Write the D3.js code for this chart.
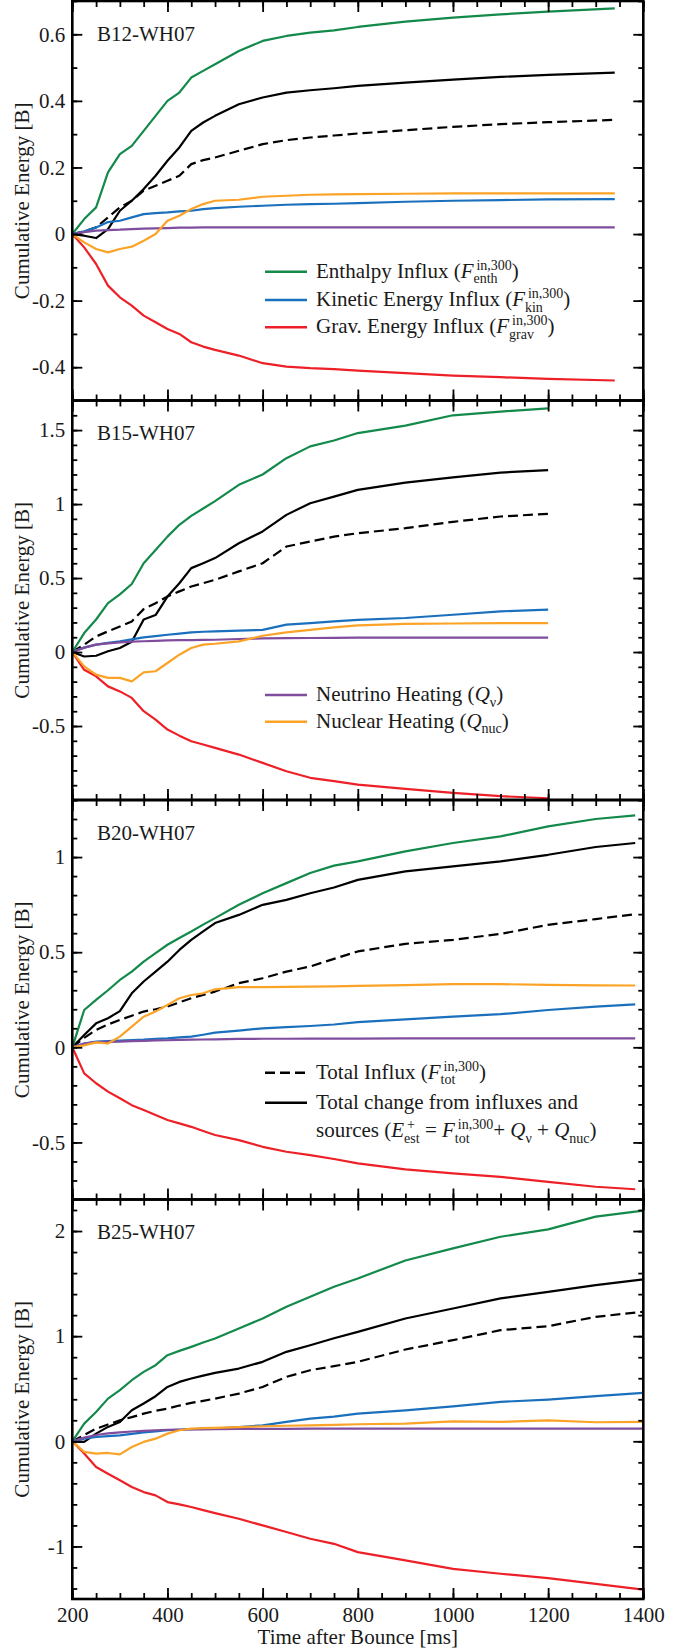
<!DOCTYPE html>
<html>
<head>
<meta charset="utf-8">
<script src="https://cdn.jsdelivr.net/npm/d3@7"></script>
<style>
body { margin: 0; background: #fff; }
text { font-family: "Liberation Serif", "Times New Roman", serif; fill: #1a1a1a; white-space: pre; }
</style>
</head>
<body>
<svg id="chart"></svg>
<script>
// Cumulative energy budget of four progenitor models

var panelNames = ["B12-WH07", "B15-WH07", "B20-WH07", "B25-WH07"];

var times = [
  [200,225,250,275,300,325,350,375,400,425,450,475,500,550,600,650,700,750,800,900,1000,1100,1200,1340],
  [200,225,250,275,300,325,350,375,400,425,450,475,500,550,600,650,700,750,800,900,1000,1100,1200],
  [200,225,250,275,300,325,350,375,400,425,450,475,500,550,600,650,700,750,800,900,1000,1100,1200,1300,1383],
  [200,225,250,275,300,325,350,375,400,425,450,475,500,550,600,650,700,750,800,900,1000,1100,1200,1300,1400]
];

var enthalpyInflux = [
  [0,0.045,0.08,0.185,0.24,0.265,0.31,0.355,0.40,0.425,0.47,0.49,0.51,0.55,0.58,0.595,0.605,0.612,0.622,0.638,0.65,0.66,0.668,0.678],
  [0,0.128,0.22,0.33,0.39,0.46,0.60,0.69,0.78,0.86,0.92,0.97,1.02,1.13,1.20,1.31,1.39,1.43,1.48,1.53,1.60,1.625,1.647],
  [0,0.196,0.249,0.30,0.354,0.398,0.45,0.495,0.539,0.575,0.609,0.645,0.679,0.749,0.81,0.863,0.916,0.955,0.977,1.03,1.074,1.109,1.161,1.2,1.219],
  [0,0.168,0.279,0.406,0.486,0.581,0.66,0.724,0.819,0.86,0.898,0.94,0.978,1.073,1.168,1.279,1.375,1.47,1.549,1.72,1.835,1.946,2.016,2.137,2.194]
];

var kineticInflux = [
  [0,0.008,0.02,0.036,0.04,0.05,0.06,0.063,0.065,0.068,0.07,0.075,0.078,0.082,0.085,0.088,0.09,0.091,0.093,0.097,0.1,0.102,0.104,0.105],
  [0,0.03,0.05,0.062,0.072,0.085,0.099,0.108,0.117,0.125,0.133,0.137,0.14,0.145,0.15,0.185,0.196,0.207,0.218,0.23,0.252,0.275,0.286],
  [0,0.02,0.03,0.033,0.035,0.038,0.04,0.044,0.047,0.052,0.056,0.066,0.077,0.088,0.1,0.106,0.112,0.12,0.132,0.147,0.161,0.174,0.196,0.214,0.226],
  [0,0.025,0.041,0.05,0.057,0.07,0.085,0.095,0.105,0.11,0.115,0.118,0.121,0.135,0.152,0.185,0.216,0.235,0.263,0.295,0.333,0.375,0.397,0.429,0.46]
];

var gravInflux = [
  [0,-0.04,-0.09,-0.155,-0.19,-0.215,-0.245,-0.265,-0.285,-0.30,-0.325,-0.338,-0.348,-0.365,-0.388,-0.398,-0.403,-0.406,-0.41,-0.418,-0.425,-0.43,-0.435,-0.44],
  [0,-0.12,-0.164,-0.232,-0.266,-0.31,-0.40,-0.457,-0.524,-0.565,-0.603,-0.625,-0.648,-0.693,-0.749,-0.806,-0.85,-0.873,-0.896,-0.925,-0.952,-0.974,-0.988],
  [0,-0.137,-0.189,-0.233,-0.268,-0.304,-0.33,-0.356,-0.382,-0.40,-0.418,-0.44,-0.461,-0.488,-0.523,-0.549,-0.567,-0.587,-0.61,-0.642,-0.663,-0.681,-0.707,-0.733,-0.746],
  [0,-0.117,-0.244,-0.308,-0.371,-0.435,-0.483,-0.514,-0.578,-0.60,-0.625,-0.655,-0.683,-0.737,-0.8,-0.863,-0.927,-0.975,-1.054,-1.133,-1.213,-1.26,-1.302,-1.356,-1.41]
];

var neutrinoHeating = [
  [0,0.006,0.01,0.012,0.013,0.015,0.016,0.017,0.018,0.019,0.019,0.02,0.02,0.02,0.02,0.02,0.02,0.02,0.02,0.02,0.02,0.02,0.02,0.02],
  [0,0.03,0.05,0.058,0.065,0.07,0.073,0.076,0.079,0.08,0.081,0.082,0.083,0.088,0.092,0.094,0.095,0.096,0.097,0.097,0.097,0.097,0.097],
  [0,0.02,0.027,0.029,0.03,0.032,0.034,0.036,0.037,0.039,0.04,0.041,0.042,0.044,0.045,0.045,0.046,0.046,0.046,0.047,0.047,0.047,0.047,0.047,0.047],
  [0,0.035,0.06,0.075,0.085,0.093,0.1,0.105,0.11,0.112,0.113,0.114,0.115,0.117,0.118,0.119,0.12,0.12,0.12,0.121,0.121,0.121,0.121,0.121,0.121]
];

var nuclearHeating = [
  [0,-0.025,-0.045,-0.055,-0.045,-0.038,-0.02,0.0,0.04,0.055,0.075,0.09,0.10,0.103,0.112,0.115,0.118,0.119,0.12,0.121,0.122,0.122,0.122,0.122],
  [0,-0.097,-0.153,-0.175,-0.175,-0.198,-0.137,-0.13,-0.074,-0.018,0.027,0.05,0.056,0.072,0.11,0.133,0.15,0.167,0.18,0.19,0.193,0.195,0.196],
  [0,0.01,0.026,0.02,0.056,0.109,0.161,0.188,0.223,0.258,0.275,0.284,0.305,0.316,0.316,0.318,0.319,0.32,0.323,0.327,0.332,0.332,0.328,0.326,0.325],
  [0,-0.1,-0.117,-0.111,-0.124,-0.054,-0.006,0.025,0.073,0.105,0.121,0.125,0.127,0.135,0.143,0.148,0.152,0.156,0.162,0.168,0.19,0.184,0.2,0.181,0.184]
];

var totalInflux = [
  [0,0.008,0.02,0.05,0.08,0.10,0.13,0.145,0.16,0.175,0.21,0.222,0.23,0.25,0.27,0.282,0.29,0.296,0.302,0.312,0.322,0.33,0.336,0.343],
  [0,0.05,0.105,0.14,0.173,0.207,0.29,0.33,0.375,0.41,0.443,0.465,0.488,0.545,0.60,0.713,0.747,0.78,0.803,0.837,0.88,0.916,0.934],
  [0,0.05,0.091,0.12,0.144,0.166,0.188,0.2,0.214,0.236,0.258,0.275,0.293,0.337,0.363,0.398,0.425,0.465,0.504,0.544,0.565,0.596,0.644,0.674,0.70],
  [0,0.06,0.12,0.16,0.2,0.23,0.263,0.29,0.311,0.34,0.365,0.385,0.406,0.454,0.517,0.613,0.676,0.715,0.756,0.873,0.962,1.057,1.095,1.184,1.232]
];

var totalChange = [
  [0,-0.005,-0.012,0.015,0.07,0.10,0.135,0.175,0.22,0.26,0.31,0.335,0.355,0.39,0.41,0.425,0.432,0.438,0.445,0.455,0.464,0.472,0.478,0.485],
  [0,-0.03,-0.025,0.005,0.027,0.07,0.22,0.25,0.375,0.465,0.567,0.60,0.635,0.735,0.815,0.927,1.006,1.05,1.096,1.145,1.18,1.213,1.23],
  [0,0.065,0.126,0.153,0.19,0.284,0.346,0.398,0.45,0.512,0.565,0.609,0.653,0.696,0.749,0.775,0.81,0.84,0.88,0.925,0.951,0.977,1.012,1.053,1.074],
  [0,-0.006,0.073,0.137,0.184,0.295,0.359,0.429,0.517,0.565,0.597,0.625,0.651,0.692,0.756,0.851,0.914,0.98,1.041,1.168,1.263,1.359,1.422,1.486,1.54]
];

var yDomains = [[-0.5, 0.7], [-1, 1.7], [-0.8, 1.3], [-1.5, 2.3]];
var yMajorTicks = [[-0.4,-0.2,0,0.2,0.4,0.6], [-0.5,0,0.5,1,1.5], [-0.5,0,0.5,1], [-1,0,1,2]];
var yMinorStep = [0.1, 0.1, 0.1, 0.2];
var xTicks = [200, 400, 600, 800, 1000, 1200, 1400];

var series = [
  {key: "totalInflux", data: totalInflux, color: "#000", dash: "10,5"},
  {key: "totalChange", data: totalChange, color: "#000"},
  {key: "enthalpy", data: enthalpyInflux, color: "#13894a"},
  {key: "kinetic", data: kineticInflux, color: "#1b70bd"},
  {key: "grav", data: gravInflux, color: "#ee2027"},
  {key: "neutrino", data: neutrinoHeating, color: "#7f4c9e"},
  {key: "nuclear", data: nuclearHeating, color: "#fba326"}
];
var colorOf = {};
series.forEach(function(s){ colorOf[s.key] = s; });

// legend rows: line y, series key, pieces of text
var legends = [
  {y: 271.7, key: "enthalpy", parts: ["Enthalpy Influx (", {it: "F"}, {sup: "in,300", sub: "enth"}, ")"]},
  {y: 300, key: "kinetic", parts: ["Kinetic Energy Influx (", {it: "F"}, {sup: "in,300", sub: "kin"}, ")"]},
  {y: 327.3, key: "grav", parts: ["Grav. Energy Influx (", {it: "F"}, {sup: "in,300", sub: "grav"}, ")"]},
  {y: 695, key: "neutrino", parts: ["Neutrino Heating (", {it: "Q"}, {sub: "\u03bd"}, ")"]},
  {y: 721.7, key: "nuclear", parts: ["Nuclear Heating (", {it: "Q"}, {sub: "nuc"}, ")"]},
  {y: 1072.7, key: "totalInflux", parts: ["Total Influx (", {it: "F"}, {sup: "in,300", sub: "tot"}, ")"]},
  {y: 1102.7, key: "totalChange", parts: ["Total change from influxes and"]},
  {y: 1131.2, parts: ["sources (", {it: "E"}, {sup: "+", sub: "est"}, " = ", {it: "F"}, {sup: "in,300", sub: "tot"},
                      "+ ", {it: "Q"}, {sub: "\u03bd"}, " + ", {it: "Q"}, {sub: "nuc"}, ")"]}
];

var chartW = 696, chartH = 1651;
var plotL = 72.3, plotR = 643.3;
var panelH = 399.5;
var fontSize = 21, smallSize = 14;

var svg = d3.select("#chart").attr("width", chartW).attr("height", chartH);

var x = d3.scaleLinear().domain([200, 1400]).range([plotL, plotR]);

function fmt(d){ return d === 0 ? "0" : String(+d.toFixed(2)); }

function styleTicks(sel){
  sel.select(".domain").remove();
  sel.selectAll(".tick line").attr("stroke", "#000").attr("stroke-width", 1.8);
  sel.selectAll(".tick text").attr("font-size", fontSize).attr("fill", "#1a1a1a")
     .attr("font-family", "Liberation Serif, Times New Roman, serif");
}

function drawPanel(p){
  var pTop = 1 + p * panelH, pBot = pTop + panelH;
  var y = d3.scaleLinear().domain(yDomains[p]).range([pBot, pTop]);
  var g = svg.append("g");

  var lo = yDomains[p][0], hi = yDomains[p][1], st = yMinorStep[p];
  var minors = [];
  for(var k = Math.ceil(lo / st - 1e-6); k * st <= hi + 1e-6; k++) minors.push(+(k * st).toFixed(3));
  var xMinors = d3.range(200, 1401, 50);

  // curves
  var line = d3.line()
    .x(function(d, i){ return x(times[p][i]); })
    .y(function(d){ return y(d); });
  series.forEach(function(s){
    g.append("path")
      .datum(s.data[p])
      .attr("d", line)
      .attr("fill", "none")
      .attr("stroke", s.color)
      .attr("stroke-width", 2.2)
      .attr("stroke-linejoin", "round")
      .attr("stroke-dasharray", s.dash || null);
  });

  // x ticks, top and bottom, pointing inward
  g.append("g").attr("transform", "translate(0," + pBot + ")")
    .call(d3.axisBottom(x).tickValues(xMinors).tickSize(-6).tickFormat("")).call(styleTicks);
  g.append("g").attr("transform", "translate(0," + pTop + ")")
    .call(d3.axisTop(x).tickValues(xMinors).tickSize(-6).tickFormat("")).call(styleTicks);
  g.append("g").attr("transform", "translate(0," + pTop + ")")
    .call(d3.axisTop(x).tickValues(xTicks).tickSize(-11).tickFormat("")).call(styleTicks);
  g.append("g").attr("transform", "translate(0," + pBot + ")")
    .call(d3.axisBottom(x).tickValues(xTicks).tickSize(-11).tickPadding(8)
      .tickFormat(p === 3 ? d3.format("d") : "")).call(styleTicks);

  // y ticks, left and right
  g.append("g").attr("transform", "translate(" + plotL + ",0)")
    .call(d3.axisLeft(y).tickValues(minors).tickSize(-5).tickFormat("")).call(styleTicks);
  g.append("g").attr("transform", "translate(" + plotL + ",0)")
    .call(d3.axisLeft(y).tickValues(yMajorTicks[p]).tickSize(-10).tickPadding(7).tickFormat(fmt)).call(styleTicks);
  g.append("g").attr("transform", "translate(" + plotR + ",0)")
    .call(d3.axisRight(y).tickValues(minors).tickSize(-5).tickFormat("")).call(styleTicks);
  g.append("g").attr("transform", "translate(" + plotR + ",0)")
    .call(d3.axisRight(y).tickValues(yMajorTicks[p]).tickSize(-10).tickFormat("")).call(styleTicks);

  // frame
  g.append("rect")
    .attr("x", plotL).attr("y", pTop)
    .attr("width", plotR - plotL).attr("height", panelH)
    .attr("fill", "none").attr("stroke", "#000").attr("stroke-width", 2.6);

  g.append("text")
    .attr("x", 97).attr("y", pTop + 39.5)
    .attr("font-size", fontSize)
    .text(panelNames[p]);

  g.append("text")
    .attr("transform", "translate(29," + ((pTop + pBot) / 2) + ") rotate(-90)")
    .attr("text-anchor", "middle")
    .attr("font-size", fontSize)
    .text("Cumulative Energy [B]");
}

for(var p = 0; p < 4; p++) drawPanel(p);

svg.append("text")
  .attr("x", (plotL + plotR) / 2).attr("y", 1644)
  .attr("text-anchor", "middle")
  .attr("font-size", fontSize)
  .text("Time after Bounce [ms]");

// legends with sub/superscripts
var lg = svg.append("g");
legends.forEach(function(row){
  if(row.key){
    var s = colorOf[row.key];
    lg.append("line")
      .attr("x1", 265).attr("x2", 307)
      .attr("y1", row.y).attr("y2", row.y)
      .attr("stroke", s.color).attr("stroke-width", 2.6)
      .attr("stroke-dasharray", s.dash || null);
  }
  var cx = 316, base = row.y + 6;
  row.parts.forEach(function(part){
    if(typeof part === "string" || part.it){
      var t = lg.append("text").attr("x", cx).attr("y", base).attr("font-size", fontSize)
        .attr("font-style", part.it ? "italic" : null)
        .text(part.it || part);
      cx += t.node().getComputedTextLength() + (part.it ? 1 : 0);
    } else {
      var w = 0;
      if(part.sup){
        var a = lg.append("text").attr("x", cx + 2).attr("y", base - 8).attr("font-size", smallSize).text(part.sup);
        w = Math.max(w, a.node().getComputedTextLength() + 2);
      }
      if(part.sub){
        var b = lg.append("text").attr("x", cx - 1).attr("y", base + 5.5).attr("font-size", smallSize).text(part.sub);
        w = Math.max(w, b.node().getComputedTextLength() - 1);
      }
      cx += w;
    }
  });
});
</script>
</body>
</html>
